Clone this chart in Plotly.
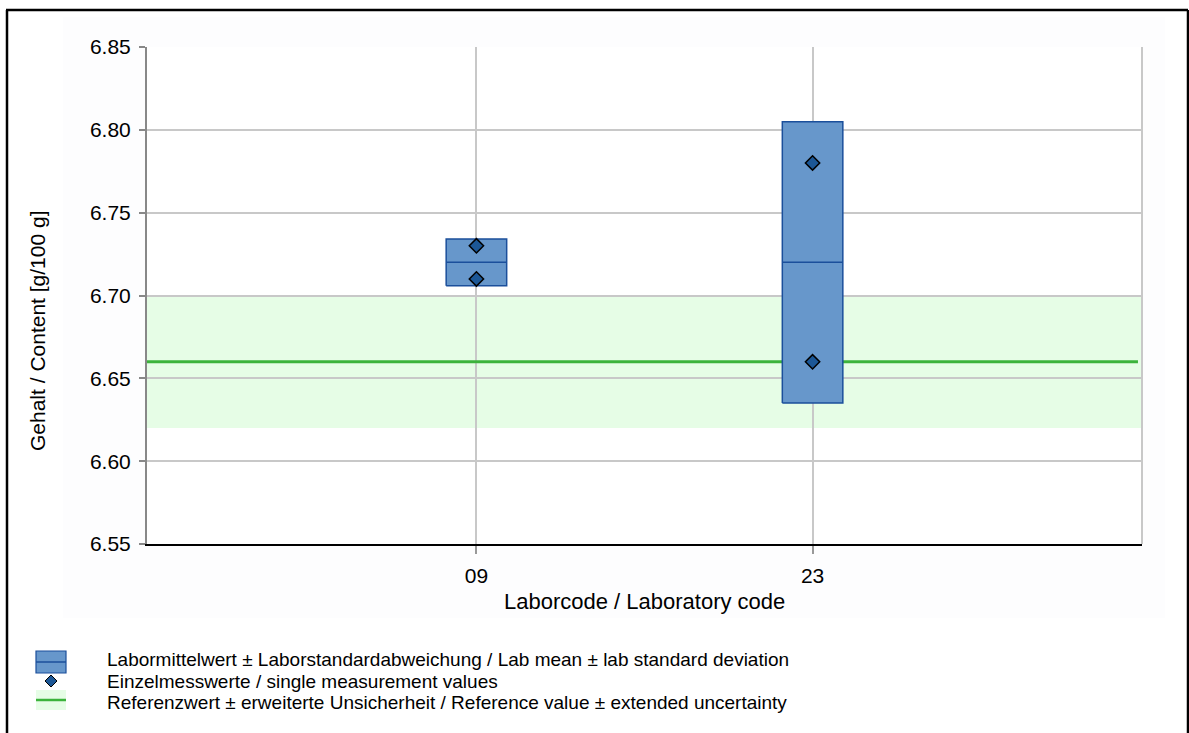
import numpy as np
import plotly.graph_objects as go

# Laboratory codes and their single measurement values (g/100 g)
lab_codes = ["09", "23"]
lab_positions = [1, 2]
measurements = [
    [6.73, 6.71],
    [6.78, 6.66],
]

# Reference value and its extended uncertainty
ref_value = 6.66
ref_uncertainty = 0.04

y_ticks = [6.55, 6.60, 6.65, 6.70, 6.75, 6.80, 6.85]

W, H = 1189, 733
L, R, T, B = 147, 47, 47, 189
PW, PH = W - L - R, H - T - B

FONT = "Liberation Sans, Arial, sans-serif"
FS = 21
LEGEND_FS = 19
BOX_FILL = "#6797cb"
BOX_LINE = "#1b4f9b"
POINT_FILL = "#1c5796"
GREEN = "#3cb33c"
BAND = "#e6fde6"
GRID = "#c8c8c8"


def px(x):
    return (x - L) / PW


def py(y):
    return (H - B - y) / PH


fig = go.Figure()

# Reference line (drawn first so the boxes sit on top of it)
x_range = [0.02, 2.98]
fig.add_trace(go.Scatter(
    x=[x_range[0], x_range[1] - 0.012], y=[ref_value, ref_value],
    mode="lines", line=dict(color=GREEN, width=3),
    showlegend=False, hoverinfo="skip",
))

box_w = 0.18
for pos, vals in zip(lab_positions, measurements):
    mean = float(np.mean(vals))
    sd = float(np.std(vals, ddof=1))
    # Mean +/- standard deviation box
    fig.add_trace(go.Scatter(
        x=[pos - box_w / 2, pos + box_w / 2, pos + box_w / 2, pos - box_w / 2, pos - box_w / 2],
        y=[mean - sd, mean - sd, mean + sd, mean + sd, mean - sd],
        mode="lines", fill="toself", fillcolor=BOX_FILL,
        line=dict(color=BOX_LINE, width=1.5), showlegend=False, hoverinfo="skip",
    ))
    # Mean line
    fig.add_trace(go.Scatter(
        x=[pos - box_w / 2, pos + box_w / 2], y=[mean, mean],
        mode="lines", line=dict(color=BOX_LINE, width=1.5),
        showlegend=False, hoverinfo="skip",
    ))

# Single measurement points
pts_x = [p for p, vals in zip(lab_positions, measurements) for _ in vals]
pts_y = [v for vals in measurements for v in vals]
fig.add_trace(go.Scatter(
    x=pts_x, y=pts_y, mode="markers",
    marker=dict(symbol="diamond", size=11, color=POINT_FILL,
                line=dict(color="black", width=1.5)),
    showlegend=False,
))


def diamond_path(cx, cy, r):
    return (f"M {px(cx)},{py(cy - r)} L {px(cx + r)},{py(cy)} "
            f"L {px(cx)},{py(cy + r)} L {px(cx - r)},{py(cy)} Z")


legend_rows = [659.5, 681, 702.5]

shapes = [
    # soft chart background
    dict(type="rect", xref="paper", yref="paper", x0=px(63), x1=px(1165), y0=py(618), y1=py(17),
         fillcolor="#fdfdfe", line=dict(width=0), layer="below"),
    # white plotting area
    dict(type="rect", xref="paper", yref="paper", x0=0, x1=1, y0=0, y1=1,
         fillcolor="white", line=dict(width=0), layer="below"),
    # uncertainty band
    dict(type="rect", xref="paper", yref="y", x0=0, x1=1,
         y0=ref_value - ref_uncertainty, y1=ref_value + ref_uncertainty,
         fillcolor=BAND, line=dict(width=0), layer="below"),
    # right frame line
    dict(type="line", xref="paper", yref="paper", x0=1, x1=1, y0=0, y1=1,
         line=dict(color=GRID, width=2), layer="below"),
    # outer border
    dict(type="line", xref="paper", yref="paper", x0=px(7), x1=px(7), y0=py(733), y1=py(10),
         line=dict(color="black", width=2.5)),
    dict(type="line", xref="paper", yref="paper", x0=px(6), x1=px(1188), y0=py(10), y1=py(10),
         line=dict(color="black", width=2.5)),
    dict(type="line", xref="paper", yref="paper", x0=px(1188), x1=px(1188), y0=py(733), y1=py(10),
         line=dict(color="black", width=2.5)),
    # legend: box symbol
    dict(type="rect", xref="paper", yref="paper", x0=px(36), x1=px(66), y0=py(673), y1=py(651),
         fillcolor=BOX_FILL, line=dict(color=BOX_LINE, width=1.2)),
    dict(type="line", xref="paper", yref="paper", x0=px(36), x1=px(66), y0=py(662), y1=py(662),
         line=dict(color=BOX_LINE, width=1.5)),
    # legend: diamond symbol
    dict(type="path", xref="paper", yref="paper", path=diamond_path(51, 681, 6),
         fillcolor=POINT_FILL, line=dict(color="black", width=1)),
    # legend: reference symbol
    dict(type="rect", xref="paper", yref="paper", x0=px(36), x1=px(66), y0=py(710), y1=py(690),
         fillcolor=BAND, line=dict(width=0)),
    dict(type="line", xref="paper", yref="paper", x0=px(36), x1=px(66), y0=py(700), y1=py(700),
         line=dict(color=GREEN, width=2.5)),
]

legend_texts = [
    "Labormittelwert ± Laborstandardabweichung / Lab mean ± lab standard deviation",
    "Einzelmesswerte / single measurement values",
    "Referenzwert ± erweiterte Unsicherheit / Reference value ± extended uncertainty",
]
annotations = []
for txt, yy in zip(legend_texts, legend_rows):
    annotations.append(dict(
        text=txt, xref="paper", yref="paper", x=px(106), y=py(yy),
        xanchor="left", yanchor="middle", showarrow=False, borderpad=0,
        font=dict(family=FONT, size=LEGEND_FS, color="black"),
    ))
annotations.append(dict(
    text="Gehalt / Content [g/100 g]", xref="paper", yref="paper",
    x=px(37), y=py(331), textangle=-90, xanchor="center", yanchor="middle",
    showarrow=False, font=dict(family=FONT, size=FS, color="black"),
))
annotations.append(dict(
    text="Laborcode / Laboratory code", xref="paper", yref="paper",
    x=px(644), y=py(601), xanchor="center", yanchor="middle",
    showarrow=False, font=dict(family=FONT, size=22, color="black"),
))

fig.update_layout(
    width=W, height=H,
    margin=dict(l=L, r=R, t=T, b=B),
    paper_bgcolor="white", plot_bgcolor="rgba(0,0,0,0)",
    font=dict(family=FONT, size=FS, color="black"),
    shapes=shapes, annotations=annotations,
    xaxis=dict(
        range=x_range, tickvals=lab_positions, ticktext=lab_codes,
        showgrid=True, gridcolor=GRID, gridwidth=2,
        ticks="outside", ticklen=8, tickcolor="#999999", tickwidth=2,
        ticklabelstandoff=4,
        showline=True, linecolor="black", linewidth=2,
        zeroline=False, fixedrange=True,
    ),
    yaxis=dict(
        range=[6.55, 6.85], tickvals=y_ticks, tickformat=".2f",
        showgrid=True, gridcolor=GRID, gridwidth=2,
        ticks="outside", ticklen=6, tickcolor="#888888", tickwidth=2,
        ticklabelstandoff=4,
        showline=True, linecolor="#888888", linewidth=2,
        zeroline=False, fixedrange=True,
    ),
)

fig.write_html("out.html", config={"displayModeBar": False})
